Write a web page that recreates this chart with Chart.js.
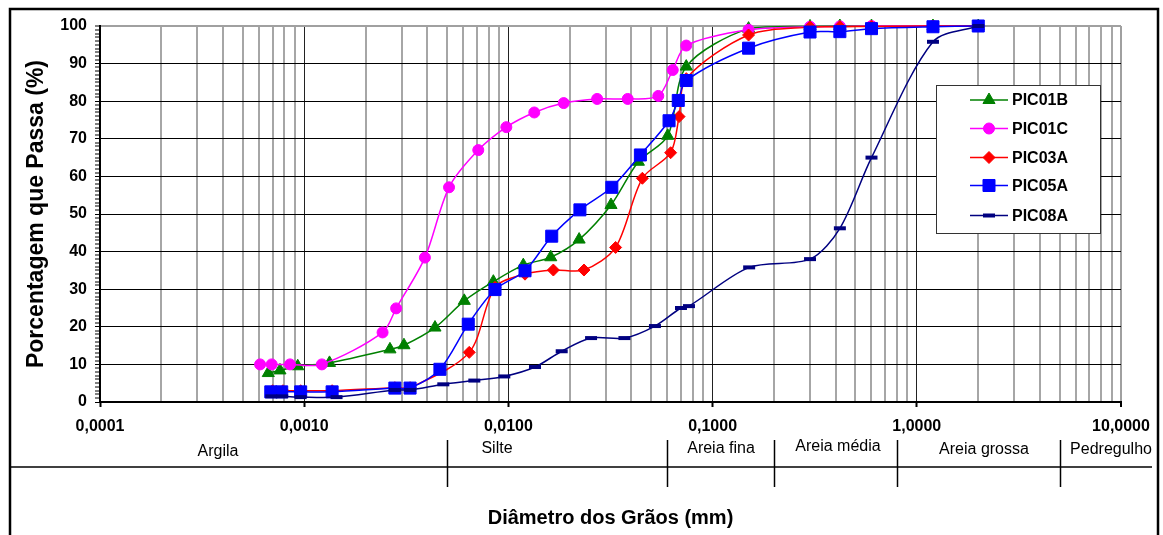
<!DOCTYPE html>
<html><head><meta charset="utf-8">
<script src="https://cdn.jsdelivr.net/npm/chart.js@4.4.1/dist/chart.umd.min.js"></script>
<style>html,body{margin:0;padding:0;background:#fff;overflow:hidden}canvas{display:block}</style>
</head><body>
<canvas id="c" width="1163" height="535"></canvas>
<script>
// ---------- data ----------
const seriesNames = ['PIC01B','PIC01C','PIC03A','PIC05A','PIC08A'];

const pic01bD = [0.000667,0.000761,0.00093,0.00133,0.00263,0.00308,0.00437,0.00608,0.00844,0.01183,0.01612,0.0222,0.0318,0.0433,0.0603,0.0743,0.15,0.3,0.42,0.6,1.2,2.0];
const pic01bP = [7.7,8.4,9.5,10.4,14.0,15.1,19.8,26.9,32.0,36.4,38.5,43.2,52.4,63.9,70.8,89.2,99.3,99.9,100,100,100,100];

const pic01cD = [0.000608,0.000693,0.000852,0.00122,0.00242,0.00282,0.0039,0.00512,0.00712,0.00977,0.01339,0.01866,0.0272,0.0384,0.0542,0.0638,0.0743,0.15,0.3,0.42,0.6,1.2,2.0];
const pic01cP = [10,10,10,10,18.5,24.9,38.4,57.1,67.0,73.1,77.0,79.5,80.6,80.6,81.4,88.3,94.8,99.0,99.8,99.9,100,100,100];

const pic03aD = [0.0007,0.000787,0.000961,0.00137,0.00278,0.0033,0.00643,0.0086,0.01206,0.0166,0.02345,0.0335,0.0453,0.0623,0.0685,0.0743,0.15,0.3,0.42,0.6,1.2,2.0];
const pic03aP = [3.0,3.0,3.0,3.0,3.8,3.8,13.2,30.5,34.0,35.1,35.1,41.1,59.5,66.3,75.9,86.0,97.6,99.7,99.8,99.9,100,100];

const pic05aD = [0.000686,0.000776,0.000961,0.00137,0.00278,0.0033,0.00462,0.00636,0.0086,0.01206,0.0163,0.0224,0.0321,0.0443,0.0612,0.0679,0.0743,0.15,0.3,0.42,0.6,1.2,2.0];
const pic05aP = [2.7,2.7,2.7,2.7,3.7,3.7,8.7,20.7,29.9,34.9,44.1,51.1,57.1,65.7,74.8,80.2,85.5,94.1,98.4,98.5,99.3,99.8,100];

const pic08aD = [0.00069,0.00078,0.00096,0.00144,0.00278,0.0033,0.0048,0.00681,0.00955,0.0135,0.01824,0.0254,0.037,0.0522,0.07,0.0766,0.151,0.3,0.42,0.6,1.2,2.0];
const pic08aP = [1.5,1.5,1.3,1.3,3.2,3.2,4.7,5.7,6.8,9.3,13.5,17.0,17.0,20.2,25.0,25.5,35.8,38.0,46.2,65.0,95.8,100];

const xDecades = [0.0001,0.001,0.01,0.1,1,10];
const xTickLabels = ['0,0001','0,0010','0,0100','0,1000','1,0000','10,0000'];
const yTickValues = [0,10,20,30,40,50,60,70,80,90,100];
const soilNames = ['Argila','Silte','Areia fina','Areia média','Areia grossa','Pedregulho'];
const soilBounds = [0.005,0.06,0.2,0.8,5];
const xTitle = 'Diâmetro dos Grãos (mm)';
const yTitle = 'Porcentagem que Passa (%)';

// ---------- layout / style ----------
const FONT = 'Arial, "Liberation Sans", sans-serif';
const soilLabelX = [218,497,721,838,984,1111];
const soilLabelY = [452,449,449,447,450,450];
const legendRowY = [100,128.5,157.5,185.5,215.5];
const styles = [
  {color:'#008000', pointStyle:'triangle', radius:7,   pbw:1},
  {color:'#ff00ff', pointStyle:'circle',   radius:5.5, pbw:1},
  {color:'#ff0000', pointStyle:'rectRot',  radius:6,   pbw:1},
  {color:'#0000ff', pointStyle:'rect',     radius:8.5, pbw:1},
  {color:'#000080', pointStyle:'line',     radius:6,   pbw:4}
];
const seriesD = [pic01bD,pic01cD,pic03aD,pic05aD,pic08aD];
const seriesP = [pic01bP,pic01cP,pic03aP,pic05aP,pic08aP];

function isDecade(v){ const l = Math.log10(v); return Math.abs(l - Math.round(l)) < 1e-6; }

const datasets = seriesNames.map((n,i)=>({
  label:n,
  data: seriesD[i].map((x,k)=>({x:x, y:seriesP[i][k]})),
  borderColor: styles[i].color,
  backgroundColor: styles[i].color,
  pointBackgroundColor: styles[i].color,
  pointBorderColor: styles[i].color,
  pointStyle: styles[i].pointStyle,
  pointRadius: styles[i].radius,
  pointHoverRadius: styles[i].radius,
  pointBorderWidth: styles[i].pbw,
  borderWidth: 1.5,
  tension: 0.3,
  clip: false,
  order: 5 - i
}));

const decor = {
  id:'decor',
  afterDraw(chart){
    const ctx = chart.ctx, xs = chart.scales.x;
    ctx.save();
    // classification strip
    ctx.strokeStyle = '#000'; ctx.lineWidth = 1.5;
    ctx.beginPath(); ctx.moveTo(10,467); ctx.lineTo(1152,467); ctx.stroke();
    soilBounds.forEach(b=>{
      const px = Math.round(xs.getPixelForValue(b)) + 0.5;
      ctx.beginPath(); ctx.moveTo(px,440); ctx.lineTo(px,487); ctx.stroke();
    });
    ctx.fillStyle = '#000'; ctx.font = '16px ' + FONT;
    ctx.textAlign = 'center'; ctx.textBaseline = 'middle';
    soilNames.forEach((s,i)=>ctx.fillText(s, soilLabelX[i], soilLabelY[i]));
    // legend
    const lx = 936.5, ly = 85.5, lw = 164, lh = 148;
    ctx.fillStyle = '#fff'; ctx.fillRect(lx,ly,lw,lh);
    ctx.strokeStyle = '#333'; ctx.lineWidth = 1; ctx.strokeRect(lx,ly,lw,lh);
    chart.data.datasets.forEach((ds,i)=>{
      const y = legendRowY[i];
      ctx.strokeStyle = ds.borderColor; ctx.lineWidth = 1.5;
      ctx.beginPath(); ctx.moveTo(970,y); ctx.lineTo(1008,y); ctx.stroke();
      ctx.fillStyle = ds.pointBackgroundColor; ctx.strokeStyle = ds.pointBorderColor; ctx.lineWidth = ds.pointBorderWidth;
      if (Chart.helpers && Chart.helpers.drawPoint) {
        Chart.helpers.drawPoint(ctx,{pointStyle:ds.pointStyle, radius:ds.pointRadius, borderWidth:ds.pointBorderWidth, rotation:0},989,y);
      }
      ctx.fillStyle = '#000'; ctx.font = 'bold 16px ' + FONT;
      ctx.textAlign = 'left'; ctx.textBaseline = 'middle';
      ctx.fillText(ds.label, 1012, y + 1);
    });
    // outer frame
    ctx.strokeStyle = '#000'; ctx.lineWidth = 2.5;
    ctx.strokeRect(10,9,1148,560);
    ctx.restore();
  }
};

new Chart(document.getElementById('c'), {
  type:'line',
  data:{datasets},
  options:{
    responsive:false, animation:false, devicePixelRatio:1,
    layout:{padding:{left:10, top:26, right:42, bottom:0}},
    plugins:{legend:{display:false}, tooltip:{enabled:false}},
    scales:{
      x:{
        type:'logarithmic', min:0.0001, max:10,
        afterBuildTicks(s){
          const t = [];
          for (let e = 0; e < xDecades.length - 1; e++)
            for (let m = 1; m <= 9; m++) t.push({value: xDecades[e]*m});
          t.push({value: xDecades[xDecades.length-1]});
          s.ticks = t;
        },
        afterFit(s){ s.height = 133; },
        ticks:{
          autoSkip:false, maxRotation:0, minRotation:0, padding:10, color:'#000',
          font:{family:FONT, size:16, weight:'bold'},
          callback(v){
            if (!isDecade(v)) return '';
            const idx = xDecades.findIndex(d=>Math.abs(Math.log10(d)-Math.log10(v))<1e-6);
            return idx >= 0 ? xTickLabels[idx] : '';
          }
        },
        grid:{
          drawTicks:true, tickLength:5,
          color(c){ const v = c.tick && c.tick.value; if (v===undefined) return '#a0a0a0';
            if (Math.abs(v-10)<1e-9) return '#a0a0a0';
            return isDecade(v) ? '#222' : '#a6a6a6'; },
          lineWidth(c){ const v = c.tick && c.tick.value; if (v===undefined) return 2;
            if (Math.abs(v-10)<1e-9) return 2;
            return isDecade(v) ? 1 : 2; },
          tickColor(c){ const v = c.tick && c.tick.value; return (v!==undefined && isDecade(v)) ? '#000' : 'rgba(0,0,0,0)'; },
          tickWidth:2
        },
        border:{display:true, color:'#000', width:2},
        title:{display:true, text:xTitle, color:'#000', font:{family:FONT, size:20, weight:'bold'}, padding:{top:0, bottom:5}}
      },
      y:{
        type:'linear', min:0, max:100,
        afterBuildTicks(s){
          const t = [];
          for (let v = 0; v <= 100; v++) t.push({value:v});
          s.ticks = t;
        },
        afterFit(s){ s.width = 90; },
        ticks:{
          autoSkip:false, padding:8, color:'#000',
          font:{family:FONT, size:16, weight:'bold'},
          callback(v){ return yTickValues.includes(v) ? String(v) : ''; }
        },
        grid:{
          drawTicks:true, tickLength:5,
          color(c){ const v = c.tick && c.tick.value; if (v===100) return '#a0a0a0'; return (v % 10 === 0) ? '#000' : 'rgba(0,0,0,0)'; },
          lineWidth(c){ const v = c.tick && c.tick.value; if (v===100) return 2; return (v % 10 === 0) ? 1 : 0; },
          tickColor:'#000', tickWidth:1
        },
        border:{display:true, color:'#000', width:2},
        title:{display:true, text:yTitle, color:'#000', font:{family:FONT, size:23, weight:'bold'}, padding:{top:13, bottom:0}}
      }
    }
  },
  plugins:[decor]
});
</script>
</body></html>
